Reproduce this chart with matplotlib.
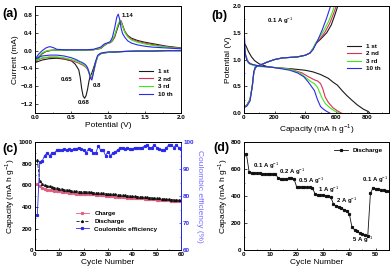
import matplotlib
matplotlib.use('Agg')
import matplotlib.pyplot as plt
from matplotlib.ticker import AutoMinorLocator

plt.rcParams['font.family'] = ['Liberation Sans', 'DejaVu Sans']
plt.rcParams['mathtext.fontset'] = 'custom'
plt.rcParams['mathtext.rm'] = 'Liberation Sans'
plt.rcParams['mathtext.bf'] = 'Liberation Sans:bold'

# ---- (a) CV curves ----
cycle_names = ['1 st', '2 nd', '3 rd', '10 th']
cycle_colors = ['#1a1a1a', '#d6305a', '#3ee81a', '#2a2aee']

E_up = [0.0, 0.05, 0.1, 0.15, 0.2, 0.25, 0.3, 0.4, 0.5, 0.6, 0.7, 0.8, 0.9, 0.95, 1.0,
        1.03, 1.06, 1.09, 1.12, 1.14, 1.16, 1.18, 1.2, 1.23, 1.27, 1.32, 1.4, 1.5, 1.6,
        1.7, 1.8, 1.9, 2.0]
I_up_1 = [-0.27, -0.16, -0.07, -0.02, 0.0, 0.01, 0.01, 0.01, 0.01, 0.01, 0.01, 0.02, 0.05,
          0.12, 0.17, 0.18, 0.22, 0.3, 0.45, 0.55, 0.63, 0.65, 0.56, 0.43, 0.34, 0.28, 0.23,
          0.19, 0.16, 0.13, 0.1, 0.08, 0.06]
I_up_2 = [-0.24, -0.14, -0.06, -0.02, 0.0, 0.01, 0.01, 0.01, 0.01, 0.01, 0.01, 0.02, 0.05,
          0.12, 0.17, 0.18, 0.23, 0.32, 0.48, 0.58, 0.66, 0.67, 0.57, 0.43, 0.33, 0.26, 0.21,
          0.17, 0.14, 0.11, 0.09, 0.07, 0.05]
I_up_3 = [-0.23, -0.13, -0.05, -0.01, 0.01, 0.01, 0.01, 0.01, 0.01, 0.01, 0.01, 0.02, 0.06,
          0.13, 0.17, 0.19, 0.24, 0.34, 0.5, 0.6, 0.66, 0.64, 0.54, 0.41, 0.31, 0.24, 0.19,
          0.15, 0.12, 0.1, 0.08, 0.06, 0.05]
I_up_10 = [-0.2, -0.08, 0.0, 0.06, 0.09, 0.07, 0.03, 0.02, 0.02, 0.02, 0.02, 0.03, 0.08,
           0.15, 0.18, 0.2, 0.3, 0.5, 0.75, 0.82, 0.7, 0.5, 0.38, 0.3, 0.22, 0.17, 0.13,
           0.1, 0.08, 0.07, 0.06, 0.05, 0.04]

E_dn = [2.0, 1.8, 1.6, 1.4, 1.2, 1.1, 1.0, 0.95, 0.9, 0.86, 0.83, 0.8, 0.78, 0.76, 0.74,
        0.72, 0.7, 0.68, 0.66, 0.64, 0.62, 0.6, 0.55, 0.5, 0.4, 0.3, 0.2, 0.1, 0.05, 0.0]
I_dn_1 = [0.0, 0.0, -0.01, -0.01, -0.02, -0.03, -0.04, -0.05, -0.07, -0.12, -0.25, -0.4,
          -0.5, -0.56, -0.68, -0.87, -1.01, -1.07, -1.02, -0.85, -0.6, -0.43, -0.3, -0.23,
          -0.19, -0.17, -0.18, -0.21, -0.24, -0.27]
I_dn_2 = [0.0, 0.0, -0.01, -0.01, -0.02, -0.03, -0.04, -0.05, -0.06, -0.12, -0.3, -0.5,
          -0.62, -0.6, -0.5, -0.42, -0.38, -0.35, -0.33, -0.31, -0.3, -0.28, -0.25, -0.22,
          -0.18, -0.15, -0.15, -0.17, -0.2, -0.24]
I_dn_3 = [0.0, 0.0, -0.01, -0.01, -0.02, -0.03, -0.04, -0.05, -0.06, -0.12, -0.28, -0.47,
          -0.58, -0.57, -0.48, -0.4, -0.36, -0.33, -0.31, -0.29, -0.28, -0.26, -0.22, -0.2,
          -0.16, -0.14, -0.14, -0.16, -0.19, -0.23]
I_dn_10 = [0.0, 0.0, -0.01, -0.01, -0.02, -0.03, -0.03, -0.04, -0.06, -0.1, -0.25, -0.5,
           -0.66, -0.62, -0.48, -0.38, -0.33, -0.3, -0.28, -0.26, -0.25, -0.23, -0.19,
           -0.16, -0.12, -0.1, -0.1, -0.12, -0.15, -0.2]

# ---- (b) charge/discharge profiles ----
dis_cap_1 = [0, 5, 15, 30, 50, 70, 100, 150, 200, 300, 400, 450, 500, 550, 580, 610, 640, 670, 700, 740, 780, 810, 820]
dis_v_1 = [1.3, 1.3, 1.25, 1.15, 1.05, 0.98, 0.92, 0.87, 0.85, 0.83, 0.8, 0.77, 0.72, 0.65, 0.58, 0.52, 0.42, 0.33, 0.25, 0.15, 0.07, 0.03, 0.0]
dis_cap_2 = [0, 10, 30, 60, 100, 200, 300, 380, 420, 460, 480, 500, 515, 530, 550, 580, 610, 635]
dis_v_2 = [1.3, 1.1, 0.95, 0.9, 0.88, 0.85, 0.82, 0.75, 0.68, 0.62, 0.6, 0.55, 0.45, 0.3, 0.2, 0.1, 0.04, 0.0]
dis_cap_3 = [0, 10, 30, 60, 100, 200, 300, 370, 410, 440, 460, 480, 495, 510, 530, 560, 590, 620]
dis_v_3 = [1.3, 1.08, 0.93, 0.89, 0.87, 0.85, 0.82, 0.74, 0.65, 0.58, 0.55, 0.48, 0.38, 0.28, 0.18, 0.1, 0.04, 0.0]
dis_cap_10 = [0, 5, 10, 20, 40, 70, 100, 200, 300, 350, 390, 420, 440, 460, 480, 500, 520, 540, 560]
dis_v_10 = [1.75, 1.4, 1.1, 0.98, 0.92, 0.9, 0.88, 0.85, 0.8, 0.75, 0.68, 0.58, 0.5, 0.42, 0.25, 0.12, 0.07, 0.03, 0.0]

chg_cap_1 = [0, 20, 40, 55, 65, 75, 90, 110, 150, 200, 250, 300, 350, 400, 430, 450, 470, 500, 540, 570, 595, 612]
chg_v_1 = [0.1, 0.15, 0.25, 0.5, 0.75, 0.85, 0.88, 0.9, 0.95, 1.0, 1.03, 1.04, 1.05, 1.08, 1.12, 1.2, 1.3, 1.38, 1.5, 1.65, 1.85, 2.0]
chg_cap_2 = [0, 20, 40, 55, 65, 75, 90, 110, 150, 200, 250, 300, 350, 400, 430, 450, 470, 500, 530, 560, 585, 602]
chg_v_2 = [0.1, 0.15, 0.25, 0.5, 0.75, 0.85, 0.88, 0.9, 0.95, 1.0, 1.03, 1.04, 1.05, 1.08, 1.12, 1.2, 1.3, 1.4, 1.52, 1.68, 1.86, 2.0]
chg_cap_3 = [0, 20, 40, 55, 65, 75, 90, 110, 150, 200, 250, 300, 350, 400, 430, 450, 470, 495, 520, 550, 575, 590]
chg_v_3 = [0.1, 0.14, 0.24, 0.5, 0.76, 0.86, 0.88, 0.9, 0.95, 1.0, 1.03, 1.04, 1.05, 1.08, 1.12, 1.2, 1.32, 1.42, 1.54, 1.7, 1.87, 2.0]
chg_cap_10 = [0, 20, 40, 55, 65, 75, 90, 110, 150, 200, 250, 300, 350, 400, 430, 450, 480, 510, 540, 565]
chg_v_10 = [0.1, 0.13, 0.22, 0.5, 0.78, 0.86, 0.88, 0.9, 0.95, 1.0, 1.03, 1.04, 1.05, 1.08, 1.12, 1.18, 1.35, 1.55, 1.78, 2.0]

# ---- (c) cycling ----
cycles_c = list(range(1, 61))
charge_c = [610, 590, 575, 565, 560, 556, 553, 550, 548, 545, 542, 538, 535, 530, 527, 525, 524,
            523, 523, 522, 522, 520, 518, 515, 513, 512, 510, 508, 505, 500, 498, 497, 496, 494,
            492, 490, 488, 486, 485, 484, 483, 481, 480, 479, 477, 476, 474, 472, 470, 468, 466,
            465, 463, 460, 460, 458, 457, 456, 455, 453]
discharge_c = [830, 640, 615, 600, 595, 590, 585, 578, 572, 568, 565, 560, 556, 552, 548, 545,
               543, 542, 540, 540, 541, 538, 535, 533, 530, 528, 527, 525, 522, 520, 518, 517,
               515, 513, 510, 508, 506, 503, 500, 498, 497, 496, 494, 492, 490, 488, 486, 484,
               482, 480, 478, 476, 474, 472, 470, 468, 466, 465, 463, 461]
ce_c = [73, 92.5, 93, 95, 96, 95, 96, 96, 97, 97, 97, 97.5, 97, 97.5, 97, 97.5, 97.5, 98, 97.5,
        97, 96, 97.5, 97, 96, 96, 98.5, 97, 97, 95, 96.5, 95, 96, 96.5, 97, 98, 98, 97.5, 98,
        97.5, 97.5, 98, 98, 98, 98, 98.5, 99, 98, 98, 99, 98, 97.5, 97, 97, 98, 99, 99, 98,
        99, 98, 97.5]

# ---- (d) rate ----
cycles_d = list(range(1, 56))
rate_d = [710, 580, 572, 570, 569, 568, 567, 566, 565, 565, 564, 563, 535, 528, 527, 530, 532,
          531, 530, 470, 467, 466, 466, 465, 464, 460, 418, 410, 408, 405, 402, 398, 392, 340,
          328, 320, 310, 300, 290, 270, 170, 150, 138, 128, 118, 110, 105, 420, 462, 455, 450,
          447, 443, 440, 437]
rate_labels = ['0.1 A g$^{-1}$', '0.2 A g$^{-1}$', '0.5 A g$^{-1}$', '1 A g$^{-1}$',
               '2 A g$^{-1}$', '5 A g$^{-1}$', '0.1 A g$^{-1}$']
rate_label_xy = [(3.4, 625), (13.3, 578), (20.5, 511), (28, 445), (35, 363), (41, 74), (45, 519)]

tfs = 4.5
lfs = 6.0
afs = 4.3

fig = plt.figure(figsize=(3.92, 2.77), dpi=100)
ax_a = fig.add_axes([0.089, 0.592, 0.373, 0.386])
ax_b = fig.add_axes([0.622, 0.592, 0.37, 0.386])
ax_c = fig.add_axes([0.089, 0.097, 0.373, 0.39])
ax_d = fig.add_axes([0.622, 0.097, 0.37, 0.39])


def style(ax):
    ax.xaxis.set_minor_locator(AutoMinorLocator(2))
    ax.yaxis.set_minor_locator(AutoMinorLocator(2))
    ax.tick_params(which='major', direction='in', length=1.8, width=0.5, labelsize=tfs, pad=1.5)
    ax.tick_params(which='minor', direction='in', length=1.0, width=0.4)
    for lab in ax.get_xticklabels() + ax.get_yticklabels():
        lab.set_fontweight('bold')
    for s in ax.spines.values():
        s.set_linewidth(0.7)


def bold_legend(leg):
    for t in leg.get_texts():
        t.set_fontweight('bold')


# (a)
ups = [I_up_1, I_up_2, I_up_3, I_up_10]
dns = [I_dn_1, I_dn_2, I_dn_3, I_dn_10]
for name, col, iu, idn in zip(cycle_names, cycle_colors, ups, dns):
    ax_a.plot(E_dn + E_up, idn + iu, color=col, lw=0.8, label=name)
ax_a.set_xlim(0, 2.0)
ax_a.set_ylim(-1.4, 1.0)
ax_a.set_xticks([0.0, 0.5, 1.0, 1.5, 2.0])
ax_a.set_yticks([-1.2, -0.8, -0.4, 0.0, 0.4, 0.8])
ax_a.set_xlabel('Potential (V)', fontsize=lfs, labelpad=1.5)
ax_a.set_ylabel('Current (mA)', fontsize=lfs, labelpad=1)
style(ax_a)
kw = dict(fontsize=afs, fontweight='bold', va='center')
ax_a.text(1.18, 0.8, '1.14', **kw)
ax_a.text(0.35, -0.65, '0.65', **kw)
ax_a.text(0.79, -0.79, '0.8', **kw)
ax_a.text(0.58, -1.17, '0.68', **kw)
bold_legend(ax_a.legend(loc='lower right', fontsize=tfs, frameon=False, handlelength=2.2,
                        labelspacing=0.35, bbox_to_anchor=(0.98, 0.1)))

# (b)
dis = [(dis_cap_1, dis_v_1), (dis_cap_2, dis_v_2), (dis_cap_3, dis_v_3), (dis_cap_10, dis_v_10)]
chg = [(chg_cap_1, chg_v_1), (chg_cap_2, chg_v_2), (chg_cap_3, chg_v_3), (chg_cap_10, chg_v_10)]
for name, col, d, c in zip(cycle_names, cycle_colors, dis, chg):
    ax_b.plot(d[0], d[1], color=col, lw=0.8, label=name)
    ax_b.plot(c[0], c[1], color=col, lw=0.8)
ax_b.set_xlim(0, 945)
ax_b.set_ylim(0, 2.0)
ax_b.set_xticks([0, 200, 400, 600, 800])
ax_b.set_yticks([0.0, 0.5, 1.0, 1.5, 2.0])
ax_b.set_xlabel('Capacity (mA h g$^{-1}$)', fontsize=lfs, labelpad=1.5)
ax_b.set_ylabel('Potential (V)', fontsize=lfs, labelpad=1)
style(ax_b)
ax_b.text(150, 1.72, '0.1 A g$^{-1}$', **kw)
bold_legend(ax_b.legend(loc='center right', fontsize=tfs, frameon=False, handlelength=2.2,
                        labelspacing=0.35, bbox_to_anchor=(0.98, 0.52)))

# (c)
ax_c.plot(cycles_c, charge_c, color='#e06080', lw=0.6, marker='s', ms=1.3, label='Charge')
ax_c.plot(cycles_c, discharge_c, color='#111111', lw=0.6, marker='^', ms=1.3, ls='--', label='Discharge')
ax_c.set_xlim(0, 60)
ax_c.set_ylim(0, 1000)
ax_c.set_xticks(range(0, 61, 10))
ax_c.set_yticks(range(0, 1001, 200))
ax_c.set_xlabel('Cycle Number', fontsize=lfs, labelpad=1.5)
ax_c.set_ylabel('Capacity (mA h g$^{-1}$)', fontsize=lfs, labelpad=1)
ax_c2 = ax_c.twinx()
ax_c2.plot(cycles_c, ce_c, color='#2a2aee', lw=0.6, marker='s', ms=1.3, label='Coulombic efficiency')
ax_c2.set_ylim(60, 100)
ax_c2.set_yticks(range(60, 101, 10))
ax_c2.set_ylabel('Coulombic efficiency (%)', fontsize=lfs, color='#7a6cff', rotation=270, labelpad=7)
style(ax_c)
style(ax_c2)
ax_c2.spines['right'].set_color('#2a2aee')
ax_c2.tick_params(axis='y', which='both', colors='#2a2aee')
h1, l1 = ax_c.get_legend_handles_labels()
h2, l2 = ax_c2.get_legend_handles_labels()
bold_legend(ax_c.legend(h1 + h2, l1 + l2, loc='lower left', fontsize=tfs, frameon=False,
                        handlelength=2.2, labelspacing=0.35, bbox_to_anchor=(0.24, 0.12)))

# (d)
ax_d.plot(cycles_d, rate_d, color='#111111', lw=0.6, marker='s', ms=1.3, label='Discharge')
ax_d.set_xlim(0, 55)
ax_d.set_ylim(0, 800)
ax_d.set_xticks(range(0, 51, 10))
ax_d.set_yticks(range(0, 801, 200))
ax_d.set_xlabel('Cycle Number', fontsize=lfs, labelpad=1.5)
ax_d.set_ylabel('Capacity (mA h g$^{-1}$)', fontsize=lfs, labelpad=1)
style(ax_d)
for lab, (x, y) in zip(rate_labels, rate_label_xy):
    ax_d.text(x, y, lab, **kw)
bold_legend(ax_d.legend(loc='upper right', fontsize=tfs, frameon=False, handlelength=2.2))

# panel letters
for txt, x, y in [('(a)', 0.005, 0.94), ('(b)', 0.54, 0.93), ('(c)', 0.005, 0.45), ('(d)', 0.545, 0.455)]:
    fig.text(x, y, txt, fontsize=9, fontweight='bold')

fig.savefig('out.png', dpi=100)
